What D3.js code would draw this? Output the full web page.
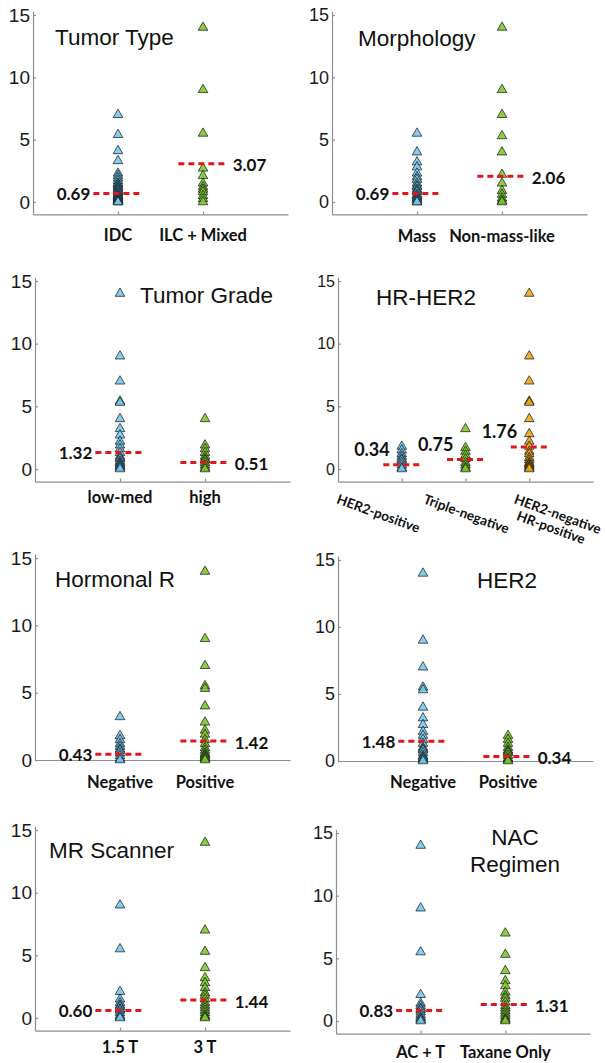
<!DOCTYPE html>
<html>
<head>
<meta charset="utf-8">
<script src="https://cdn.jsdelivr.net/npm/d3@7"></script>
<style>
	body { margin: 0; background: #fff; }
	svg { display: block; }
	.tick text { font-family: "Liberation Sans", Arial, sans-serif; fill: #1a1a1a; }
	.axis path, .axis line { stroke: #8e8e8e; stroke-width: 1.2; }
	.title { font-family: "Liberation Sans", Arial, sans-serif; fill: #111; }
	.cat, .val { font-family: Lato, "Open Sans", sans-serif; font-weight: bold; fill: #111; }
</style>
</head>
<body>
<svg id="chart" width="605" height="1063"></svg>
<script>

// ---- data ----
var tumorTypeCats = ["IDC", "ILC + Mixed"],
	tumorTypeIDC = [7.0, 5.4, 4.1, 3.3, 2.3, 2.1, 1.9, 1.7, 1.5, 1.4, 1.3, 1.2, 1.1, 1.0, 0.9, 0.8, 0.7, 0.6, 0.5, 0.45, 0.4, 0.35, 0.3, 0.2, 0.15, 0.1, 0.05, 0, 0],
	tumorTypeILC = [14.0, 9.0, 5.5, 2.7, 2.1, 1.5, 1.2, 1.0, 0.8, 0.5, 0.25, 0],
	tumorTypeMeans = [0.69, 3.07];

var morphologyCats = ["Mass", "Non-mass-like"],
	morphologyMass = [5.5, 4.0, 3.2, 2.8, 2.3, 2.0, 1.8, 1.5, 1.3, 1.2, 1.0, 0.9, 0.8, 0.6, 0.5, 0.4, 0.3, 0.2, 0.1, 0, 0],
	morphologyNonMass = [14.0, 9.0, 7.0, 5.3, 4.0, 2.2, 1.5, 0.9, 0.6, 0.3, 0.1, 0],
	morphologyMeans = [0.69, 2.06];

var gradeCats = ["low-med", "high"],
	gradeLowMed = [14.0, 9.0, 7.0, 5.4, 5.3, 4.0, 3.2, 2.7, 2.2, 1.9, 1.6, 1.3, 1.0, 0.9, 0.8, 0.6, 0.5, 0.4, 0.3, 0.2, 0.1, 0],
	gradeHigh = [4.0, 1.9, 1.6, 1.3, 1.0, 0.8, 0.7, 0.5, 0.3, 0.1, 0],
	gradeMeans = [1.32, 0.51];

var hrHer2Cats = ["HER2-positive", "Triple-negative", "HER2-negative\nHR-positive"],
	hrHer2Pos = [1.8, 1.5, 1.2, 1.0, 0.8, 0.7, 0.5, 0.3, 0.1, 0],
	hrHer2Triple = [3.2, 1.7, 1.4, 1.1, 0.8, 0.5, 0.3, 0.1, 0],
	hrHer2HRPos = [14.0, 9.0, 7.0, 5.4, 5.3, 4.0, 2.8, 2.2, 1.8, 1.4, 1.2, 0.9, 0.7, 0.5, 0.4, 0.3, 0.2, 0.1, 0],
	hrHer2Means = [0.34, 0.75, 1.76];

var hormonalCats = ["Negative", "Positive"],
	hormonalNeg = [3.2, 1.8, 1.5, 1.2, 1.0, 0.8, 0.7, 0.5, 0.3, 0.1, 0],
	hormonalPos = [14.0, 9.0, 7.0, 5.5, 5.3, 4.0, 2.8, 2.2, 1.9, 1.5, 1.2, 0.9, 0.7, 0.5, 0.4, 0.3, 0.2, 0.1, 0],
	hormonalMeans = [0.43, 1.42];

var her2Cats = ["Negative", "Positive"],
	her2Neg = [14.0, 9.0, 7.0, 5.5, 5.3, 4.0, 3.2, 2.7, 2.2, 1.9, 1.6, 1.3, 1.0, 0.9, 0.8, 0.6, 0.4, 0.3, 0.2, 0.1, 0],
	her2Pos = [1.9, 1.6, 1.3, 1.0, 0.8, 0.7, 0.6, 0.4, 0.2, 0.1, 0],
	her2Means = [1.48, 0.34];

var scannerCats = ["1.5 T", "3 T"],
	scanner15 = [9.0, 5.5, 2.1, 1.5, 1.2, 1.0, 0.9, 0.7, 0.6, 0.4, 0.2, 0.1, 0],
	scanner3 = [14.0, 7.0, 5.3, 4.0, 3.2, 2.8, 2.4, 2.0, 1.8, 1.5, 1.2, 1.0, 0.8, 0.6, 0.4, 0.2, 0.1, 0],
	scannerMeans = [0.60, 1.44];

var nacCats = ["AC + T", "Taxane Only"],
	nacACT = [14.0, 9.0, 5.5, 2.1, 1.4, 1.2, 1.0, 0.9, 0.7, 0.5, 0.3, 0.2, 0.1, 0],
	nacTaxane = [7.0, 5.3, 4.0, 3.2, 2.8, 2.3, 2.0, 1.8, 1.5, 1.2, 1.0, 0.8, 0.6, 0.4, 0.2, 0.1, 0],
	nacMeans = [0.83, 1.31];

var yTicks = [0, 5, 10, 15];

// ---- look ----
var blue = "#72c4ec", green = "#7ac41e", orange = "#f0a10a";

var panels = [
	{title: ["Tumor Type"], tx: 55, ty: 45, cats: tumorTypeCats, series: [tumorTypeIDC, tumorTypeILC], means: tumorTypeMeans,
		colors: [blue, green], xL: 33, xR: 288, y0: 202, y15: 15, yMin: -1, labY: 241, side: ["left", "right"], tick: 19},
	{title: ["Morphology"], tx: 358, ty: 46, cats: morphologyCats, series: [morphologyMass, morphologyNonMass], means: morphologyMeans,
		colors: [blue, green], xL: 332, xR: 587, y0: 202, y15: 15, yMin: -1, labY: 242, side: ["left", "right"], tick: 18},
	{title: ["Tumor Grade"], tx: 140, ty: 303, cats: gradeCats, series: [gradeLowMed, gradeHigh], means: gradeMeans,
		colors: [blue, green], xL: 35, xR: 290, y0: 469, y15: 281, yMin: -1, labY: 503, side: ["left", "right"], tick: 19},
	{title: ["HR-HER2"], tx: 376, ty: 305, cats: hrHer2Cats, series: [hrHer2Pos, hrHer2Triple, hrHer2HRPos], means: hrHer2Means,
		colors: [blue, green, orange], xL: 338, xR: 593, y0: 469, y15: 281, yMin: -1, labY: 503, side: ["above", "above", "above"], tick: 16},
	{title: ["Hormonal R"], tx: 55, ty: 587, cats: hormonalCats, series: [hormonalNeg, hormonalPos], means: hormonalMeans,
		colors: [blue, green], xL: 35, xR: 290, y0: 760, y15: 558, yMin: 0, labY: 788, side: ["left", "right"], tick: 19},
	{title: ["HER2"], tx: 477, ty: 588, cats: her2Cats, series: [her2Neg, her2Pos], means: her2Means,
		colors: [blue, green], xL: 338, xR: 593, y0: 761, y15: 560, yMin: 0, labY: 788, side: ["left", "right"], tick: 18},
	{title: ["MR Scanner"], tx: 49, ty: 858, cats: scannerCats, series: [scanner15, scanner3], means: scannerMeans,
		colors: [blue, green], xL: 35, xR: 290, y0: 1018, y15: 830, yMin: -1, labY: 1053, side: ["left", "right"], tick: 19},
	{title: ["NAC", "Regimen"], tx: 515, ty: 845, anchor: "middle", cats: nacCats, series: [nacACT, nacTaxane], means: nacMeans,
		colors: [blue, green], xL: 336, xR: 590, y0: 1021, y15: 833, yMin: -1, labY: 1058, side: ["left", "right"], tick: 18}
];

var halfW = 0.29;
var svg = d3.select("#chart");

panels.forEach(function (p) {
	var n = p.cats.length;
	var x = d3.scaleLinear().domain([0, n + 1]).range([p.xL, p.xR]);
	var y = d3.scaleLinear().domain([0, 15]).range([p.y0, p.y15]);
	var yAxisScale = y.copy().domain([p.yMin, 15.3]).range([y(p.yMin), y(15.3)]);

	var g = svg.append("g").attr("class", "panel");

	// axes
	g.append("g")
	.attr("class", "axis")
	.attr("transform", "translate(" + p.xL + ",0)")
	.call(d3.axisLeft(yAxisScale).tickValues(yTicks).tickSizeInner(-3).tickSizeOuter(0).tickPadding(3))
	.selectAll("text")
	.style("font-size", p.tick + "px");

	g.append("g")
	.attr("class", "axis")
	.attr("transform", "translate(0," + y(p.yMin) + ")")
	.call(d3.axisBottom(x).tickValues(d3.range(1, n + 1)).tickSizeInner(-3).tickSizeOuter(0).tickFormat(""));

	// title
	var title = g.append("text")
	.attr("class", "title")
	.attr("x", p.tx)
	.attr("y", p.ty)
	.attr("text-anchor", p.anchor || "start")
	.style("font-size", "22.5px");
	p.title.forEach(function (t, i) {
		title.append("tspan").attr("x", p.tx).attr("dy", i ? 27 : 0).text(t);
	});

	// markers
	p.series.forEach(function (vals, i) {
		g.append("g")
		.selectAll("path")
		.data(vals)
		.enter()
		.append("path")
		.attr("d", d3.symbol(d3.symbolTriangle, 40))
		.attr("transform", function (d) {
			return "translate(" + x(i + 1) + "," + y(d) + ")";
		})
		.attr("fill", p.colors[i])
		.attr("fill-opacity", 0.85)
		.attr("stroke", "#10191d")
		.attr("stroke-opacity", 0.8)
		.attr("stroke-width", 0.9);
	});

	// mean lines and labels
	p.means.forEach(function (m, i) {
		g.append("line")
		.attr("x1", x(i + 1 - halfW))
		.attr("x2", x(i + 1 + halfW))
		.attr("y1", y(m))
		.attr("y2", y(m))
		.attr("stroke", "#e3161c")
		.attr("stroke-width", 3)
		.attr("stroke-dasharray", "6,4");

		var lab = g.append("text")
		.attr("class", "val")
		.style("font-size", "17px")
		.text(d3.format(".2f")(m));

		switch (p.side[i]) {
			case "left":
				lab.attr("x", x(i + 1 - halfW) - 3).attr("y", y(m)).attr("dy", "0.4em").attr("text-anchor", "end");
				break;
			case "right":
				lab.attr("x", x(i + 1 + halfW) + 5).attr("y", y(m)).attr("dy", "0.45em").attr("text-anchor", "start");
				break;
			default:
				lab.attr("x", x(i + 1) - 12).attr("y", y(m) - 15).attr("dy", "0.35em").attr("text-anchor", "end").style("font-size", "18px");
		}
	});

	// category labels
	if (n === 3) {
		var starts = [-66, -43, -16];
		p.cats.forEach(function (c, i) {
			var t = g.append("text")
			.attr("class", "cat")
			.style("font-size", "13.5px")
			.attr("transform", "translate(" + (x(i + 1) + starts[i]) + "," + p.labY + ") rotate(20)");
			c.split("\n").forEach(function (line, j) {
				t.append("tspan").attr("x", j ? 8 : 0).attr("dy", j ? "1.1em" : 0).text(line);
			});
		});
	} else {
		g.selectAll("text.cat")
		.data(p.cats)
		.enter()
		.append("text")
		.attr("class", "cat")
		.attr("x", function (d, i) { return x(i + 1); })
		.attr("y", p.labY)
		.attr("text-anchor", "middle")
		.style("font-size", "16.5px")
		.text(function (d) { return d; });
	}
});

</script>
</body>
</html>
